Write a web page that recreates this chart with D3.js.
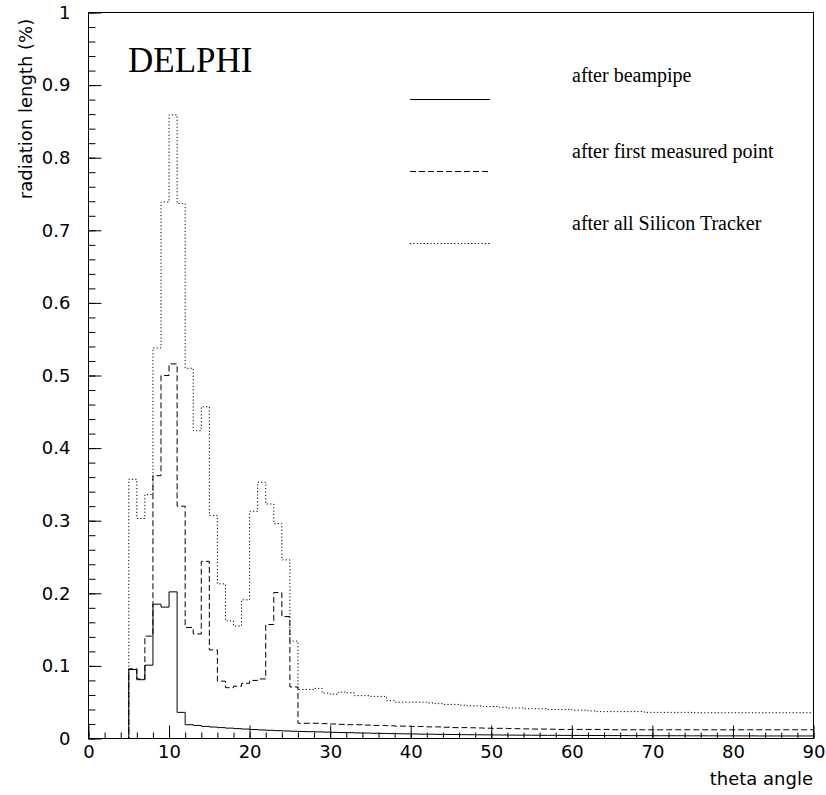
<!DOCTYPE html>
<html>
<head>
<meta charset="utf-8">
<script src="https://cdn.jsdelivr.net/npm/d3@7"></script>
<style>
    body { margin: 0; background: #fff; }
</style>
</head>
<body>
<div id="viz"></div>
<script>

// Histogram bins: 1 degree wide, lower edge of first bin at 0
const thetaStart = 0;
const binWidth = 1;
const thetaEnd = 90;

// radiation length (%) per bin
const afterBeampipe = [
    0, 0, 0, 0, 0, 0.095, 0.081, 0.101, 0.185, 0.181,
    0.202, 0.036, 0.019, 0.018, 0.0167, 0.0158, 0.015, 0.0143, 0.0136, 0.013,
    0.0124, 0.0118, 0.0113, 0.0108, 0.0104, 0.010, 0.0097, 0.0094, 0.0091, 0.0088,
    0.0085, 0.0082, 0.008, 0.0077, 0.0075, 0.0072, 0.007, 0.0068, 0.0066, 0.0064,
    0.0062, 0.006, 0.0059, 0.0057, 0.0056, 0.0055, 0.0053, 0.0052, 0.0051, 0.005,
    0.0049, 0.0048, 0.0047, 0.0046, 0.0046, 0.0045, 0.0044, 0.0044, 0.0043, 0.0043,
    0.0042, 0.0042, 0.0041, 0.0041, 0.0040, 0.0040, 0.0040, 0.0039, 0.0039, 0.0039,
    0.0038, 0.0038, 0.0038, 0.0038, 0.0037, 0.0037, 0.0037, 0.0037, 0.0036, 0.0036,
    0.0036, 0.0036, 0.0036, 0.0035, 0.0035, 0.0035, 0.0035, 0.0035, 0.0035, 0.0035
];

const afterFirstPoint = [
    0, 0, 0, 0, 0, 0.096, 0.082, 0.141, 0.362, 0.500,
    0.516, 0.320, 0.153, 0.144, 0.244, 0.122, 0.079, 0.070, 0.072, 0.076,
    0.080, 0.082, 0.157, 0.201, 0.168, 0.071, 0.021, 0.021, 0.021, 0.0205,
    0.020, 0.0195, 0.019, 0.019, 0.0185, 0.018, 0.018, 0.0175, 0.017, 0.017,
    0.0165, 0.0165, 0.016, 0.016, 0.0155, 0.015, 0.015, 0.0148, 0.0145, 0.0142,
    0.014, 0.014, 0.0137, 0.0135, 0.0132, 0.013, 0.013, 0.0128, 0.0125, 0.0125,
    0.0125, 0.0125, 0.0125, 0.0125, 0.0125, 0.012, 0.012, 0.012, 0.012, 0.012,
    0.012, 0.012, 0.012, 0.012, 0.012, 0.012, 0.012, 0.012, 0.012, 0.012,
    0.012, 0.012, 0.012, 0.012, 0.012, 0.012, 0.012, 0.012, 0.012, 0.012
];

const afterSiliconTracker = [
    0, 0, 0, 0, 0, 0.357, 0.303, 0.336, 0.538, 0.739,
    0.859, 0.737, 0.510, 0.424, 0.457, 0.307, 0.213, 0.162, 0.155, 0.191,
    0.313, 0.353, 0.323, 0.296, 0.246, 0.134, 0.0675, 0.0675, 0.069, 0.0625,
    0.061, 0.064, 0.063, 0.059, 0.059, 0.058, 0.058, 0.052, 0.050, 0.050,
    0.050, 0.050, 0.049, 0.048, 0.047, 0.047, 0.046, 0.045, 0.045, 0.044,
    0.044, 0.043, 0.042, 0.042, 0.041, 0.041, 0.041, 0.040, 0.040, 0.040,
    0.039, 0.039, 0.038, 0.037, 0.037, 0.037, 0.037, 0.037, 0.037, 0.036,
    0.036, 0.036, 0.036, 0.036, 0.036, 0.0355, 0.0355, 0.0355, 0.0355, 0.0355,
    0.0355, 0.0355, 0.0355, 0.0355, 0.0355, 0.0355, 0.0355, 0.0355, 0.0355, 0.0355
];

const seriesLabels = ["after beampipe", "after first measured point", "after all Silicon Tracker"];
const seriesDash = [null, "6,3", "1.2,2.2"];

const xTicks = [0, 10, 20, 30, 40, 50, 60, 70, 80, 90];
const xMinorTicks = [0, 2, 4, 6, 8, 10, 12, 14, 16, 18, 20, 22, 24, 26, 28, 30, 32, 34, 36, 38, 40,
    42, 44, 46, 48, 50, 52, 54, 56, 58, 60, 62, 64, 66, 68, 70, 72, 74, 76, 78, 80, 82, 84, 86, 88, 90];
const yTicks = [0, 0.1, 0.2, 0.3, 0.4, 0.5, 0.6, 0.7, 0.8, 0.9, 1];
const yMinorTicks = [0, 0.02, 0.04, 0.06, 0.08, 0.1, 0.12, 0.14, 0.16, 0.18, 0.2, 0.22, 0.24, 0.26, 0.28,
    0.3, 0.32, 0.34, 0.36, 0.38, 0.4, 0.42, 0.44, 0.46, 0.48, 0.5, 0.52, 0.54, 0.56, 0.58, 0.6, 0.62,
    0.64, 0.66, 0.68, 0.7, 0.72, 0.74, 0.76, 0.78, 0.8, 0.82, 0.84, 0.86, 0.88, 0.9, 0.92, 0.94, 0.96, 0.98, 1];

drawChart();

function drawChart() {

    const fullWidth = 826,
        fullHeight = 795;

    const margin = {top: 12, right: 13, bottom: 57, left: 88};

    const width = fullWidth - margin.left - margin.right,
        height = fullHeight - margin.top - margin.bottom;

    const fontSans = "DejaVu Sans, sans-serif";
    const fontSerif = "Liberation Serif, Times New Roman, serif";

    let svg = d3.select("#viz")
        .append("svg")
        .attr("width", fullWidth)
        .attr("height", fullHeight),
        g = svg.append("g").attr("transform", "translate(" + (margin.left + 0.5) + "," + (margin.top + 0.5) + ")");

    let x = d3.scaleLinear()
        .domain([0, 90])
        .range([0, width]);
    let y = d3.scaleLinear()
        .domain([0, 1])
        .range([height, 0]);

    // minor ticks (no labels)
    g.append("g")
        .attr("transform", "translate(0," + height + ")")
        .call(d3.axisBottom(x).tickValues(xMinorTicks).tickSizeInner(-6).tickSizeOuter(0).tickFormat(""))
        .call(a => a.select(".domain").remove());
    g.append("g")
        .call(d3.axisLeft(y).tickValues(yMinorTicks).tickSizeInner(-7).tickSizeOuter(0).tickFormat(""))
        .call(a => a.select(".domain").remove());

    // major ticks with labels (font set after the axis call, d3 overwrites it)
    g.append("g")
        .attr("transform", "translate(0," + height + ")")
        .call(d3.axisBottom(x).tickValues(xTicks).tickSizeInner(-13).tickSizeOuter(0).tickPadding(7).tickFormat(d3.format("d")))
        .attr("font-size", 18)
        .attr("font-family", fontSans)
        .call(a => a.select(".domain").remove());
    g.append("g")
        .call(d3.axisLeft(y).tickValues(yTicks).tickSizeInner(-13).tickSizeOuter(0).tickPadding(18).tickFormat(d3.format("~g")))
        .attr("font-size", 18)
        .attr("font-family", fontSans)
        .call(a => a.select(".domain").remove());

    // frame
    g.append("rect")
        .attr("width", width)
        .attr("height", height)
        .attr("fill", "none")
        .attr("stroke", "#000")
        .attr("stroke-width", 1);

    // step histograms
    const line = d3.line()
        .x(d => x(d.theta))
        .y(d => y(d.value))
        .curve(d3.curveStepAfter);

    const series = [afterBeampipe, afterFirstPoint, afterSiliconTracker];

    series.forEach(function(values, i) {
        let pts = values.map((v, k) => ({theta: thetaStart + k * binWidth, value: v}));
        pts.push({theta: thetaEnd, value: values[values.length - 1]});
        g.append("path")
            .datum(pts)
            .attr("fill", "none")
            .attr("stroke", "#000")
            .attr("stroke-width", 1)
            .attr("stroke-dasharray", seriesDash[i])
            .attr("d", line);
    });

    // legend
    const legendY = [99, 171, 243];
    const legendTextY = [82, 158, 230];
    seriesLabels.forEach(function(label, i) {
        svg.append("line")
            .attr("x1", 410)
            .attr("x2", 490)
            .attr("y1", legendY[i] + 0.5)
            .attr("y2", legendY[i] + 0.5)
            .attr("stroke", "#000")
            .attr("stroke-width", 1)
            .attr("stroke-dasharray", seriesDash[i]);
        svg.append("text")
            .attr("x", 572)
            .attr("y", legendTextY[i])
            .style("font-family", fontSerif)
            .style("font-size", "20px")
            .text(label);
    });

    svg.append("text")
        .attr("x", 128)
        .attr("y", 72)
        .style("font-family", fontSerif)
        .style("font-size", "35px")
        .text("DELPHI");

    // text label for the x axis
    svg.append("text")
        .attr("x", margin.left + width)
        .attr("y", 785)
        .style("text-anchor", "end")
        .style("font-family", fontSans)
        .style("font-size", "18px")
        .text("theta angle");

    // text label for the y axis
    svg.append("text")
        .attr("transform", "translate(32,109) rotate(-90)")
        .style("text-anchor", "middle")
        .style("font-family", fontSans)
        .style("font-size", "18px")
        .text("radiation length (%)");
}

</script>
</body>
</html>
